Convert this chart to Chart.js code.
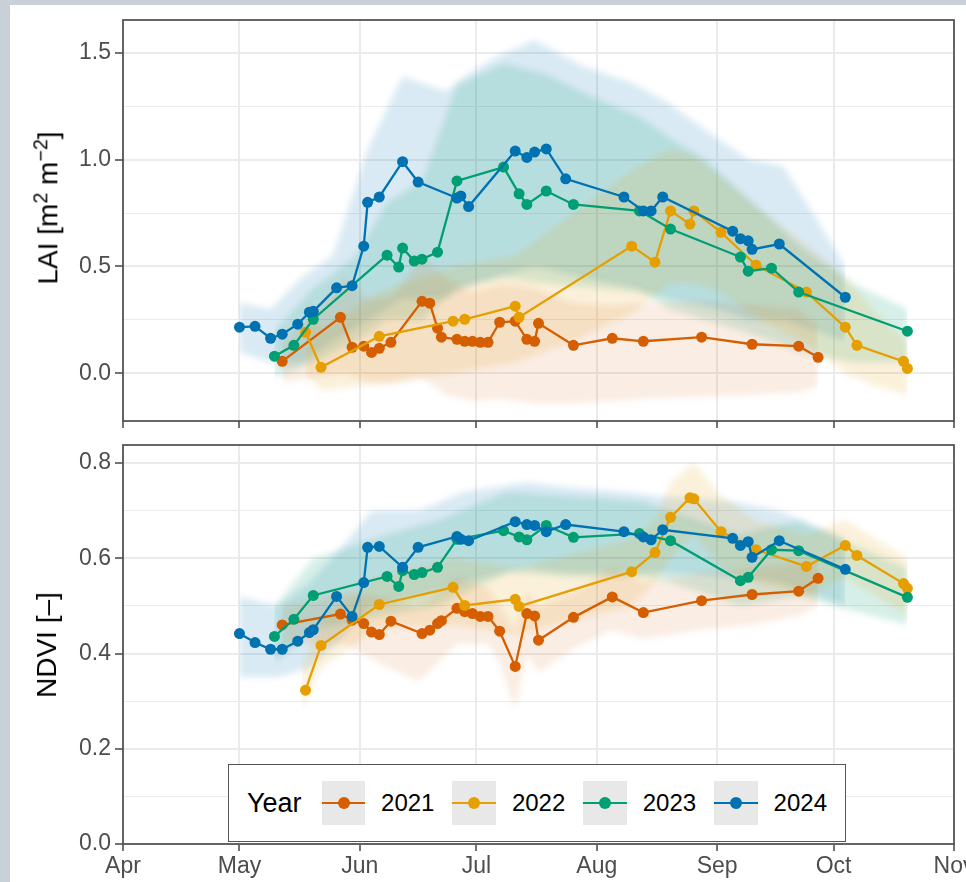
<!DOCTYPE html>
<html>
<head>
<meta charset="utf-8">
<script src="https://cdn.jsdelivr.net/npm/chart.js@4.4.1/dist/chart.umd.min.js"></script>
<style>
  html, body { margin: 0; padding: 0; }
  body {
    width: 966px; height: 882px; overflow: hidden; position: relative;
    background: #c9d0d8; font-family: "Liberation Sans", Arial, sans-serif;
  }
  #sheet { position: absolute; left: 10px; top: 5px; width: 956px; height: 877px; background: #fff; }
  canvas { position: absolute; left: 0; }
  #laiChart { top: 0; }
  #ndviChart { top: 410px; }
  .ytitle {
    position: absolute; transform: translate(-50%, -50%) rotate(-90deg);
    white-space: nowrap; font-size: 28px; color: #000;
  }
  .ytitle sup { font-size: 0.7em; }
  #legend {
    position: absolute; left: 228px; top: 764px; width: 618px; height: 78px;
    box-sizing: border-box; border: 1.5px solid #555; background: #fff;
    display: flex; align-items: center; padding-left: 18px; color: #000;
  }
  .ltitle { font-size: 27px; margin-right: 20px; }
  .lkey { position: relative; width: 44px; height: 44px; background: #e8e8e8; margin-right: 16px; }
  .lkey .ln { position: absolute; left: 0; right: 0; top: 21px; height: 2px; }
  .lkey .dt { position: absolute; left: 16px; top: 16px; width: 12px; height: 12px; border-radius: 50%; }
  .llab { font-size: 24px; margin-right: 18px; }
</style>
</head>
<body>
<div id="sheet"></div>
<canvas id="laiChart" width="990" height="440"></canvas>
<canvas id="ndviChart" width="990" height="472"></canvas>
<div class="ytitle" style="left:47px; top:208px;">LAI [m<sup>2</sup> m<sup>−2</sup>]</div>
<div class="ytitle" style="left:47px; top:645px;">NDVI [–]</div>
<div id="legend"><span class="ltitle">Year</span></div>

<script>
// x = days since 1 April
const monthNames = ["Apr", "May", "Jun", "Jul", "Aug", "Sep", "Oct", "Nov"];
const monthDays = [0, 30, 61, 91, 122, 153, 183, 214];

const years = ["2021", "2022", "2023", "2024"];
const yearColors = ["#D55E00", "#E69F00", "#009E73", "#0072B2"];
const ribbonColors = [
  "rgba(213, 94, 0, 0.11)",
  "rgba(230, 159, 0, 0.14)",
  "rgba(0, 158, 115, 0.16)",
  "rgba(0, 114, 178, 0.15)",
];

const laiGrid = [0, 0.25, 0.5, 0.75, 1.0, 1.25, 1.5];
const laiLabels = [0, 0.5, 1.0, 1.5];
const ndviGrid = [0, 0.1, 0.2, 0.3, 0.4, 0.5, 0.6, 0.7, 0.8];
const ndviLabels = [0, 0.2, 0.4, 0.6, 0.8];

// observations
const days2021 = [41, 56, 59, 62, 64, 66, 69, 77, 79, 81, 82, 86, 88, 90, 92, 94, 97, 101, 104, 106, 107, 116, 126, 134, 149, 162, 174, 179];
const lai2021 = [0.056, 0.262, 0.122, 0.127, 0.098, 0.117, 0.145, 0.337, 0.328, 0.211, 0.169, 0.159, 0.150, 0.150, 0.145, 0.145, 0.239, 0.244, 0.159, 0.150, 0.234, 0.131, 0.164, 0.150, 0.169, 0.136, 0.127, 0.075];
const ndvi2021 = [0.460, 0.483, 0.470, 0.463, 0.445, 0.440, 0.468, 0.442, 0.449, 0.463, 0.469, 0.495, 0.488, 0.484, 0.478, 0.478, 0.447, 0.373, 0.484, 0.479, 0.428, 0.476, 0.519, 0.486, 0.511, 0.524, 0.531, 0.558];

const days2022 = [47, 51, 66, 85, 88, 101, 102, 131, 137, 141, 146, 147, 154, 163, 176, 186, 189, 201, 202];
const lai2022 = [0.192, 0.028, 0.173, 0.244, 0.253, 0.314, 0.262, 0.595, 0.520, 0.760, 0.698, 0.760, 0.660, 0.506, 0.380, 0.216, 0.131, 0.056, 0.023];
const ndvi2022 = [0.323, 0.417, 0.503, 0.539, 0.501, 0.514, 0.499, 0.572, 0.612, 0.686, 0.727, 0.725, 0.656, 0.618, 0.583, 0.627, 0.606, 0.547, 0.537];

const days2023 = [39, 44, 49, 68, 71, 72, 75, 77, 81, 86, 98, 102, 104, 109, 116, 133, 141, 159, 161, 167, 174, 202];
const lai2023 = [0.080, 0.131, 0.253, 0.553, 0.497, 0.586, 0.525, 0.534, 0.567, 0.900, 0.965, 0.840, 0.790, 0.853, 0.790, 0.760, 0.675, 0.544, 0.478, 0.492, 0.380, 0.197];
const ndvi2023 = [0.436, 0.472, 0.522, 0.562, 0.541, 0.574, 0.566, 0.570, 0.581, 0.640, 0.658, 0.645, 0.639, 0.669, 0.644, 0.652, 0.637, 0.553, 0.560, 0.618, 0.616, 0.518];

const days2024 = [30, 34, 38, 41, 45, 48, 49, 55, 59, 62, 63, 66, 72, 76, 86, 87, 89, 101, 104, 106, 109, 114, 129, 134, 136, 139, 157, 159, 161, 162, 169, 186];
const lai2024 = [0.216, 0.220, 0.164, 0.183, 0.230, 0.286, 0.290, 0.400, 0.410, 0.595, 0.800, 0.825, 0.990, 0.895, 0.820, 0.830, 0.780, 1.040, 1.010, 1.035, 1.050, 0.910, 0.825, 0.760, 0.760, 0.825, 0.665, 0.630, 0.620, 0.580, 0.605, 0.356];
const ndvi2024 = [0.442, 0.423, 0.409, 0.409, 0.426, 0.444, 0.450, 0.520, 0.478, 0.549, 0.623, 0.625, 0.581, 0.623, 0.646, 0.640, 0.637, 0.677, 0.671, 0.669, 0.656, 0.671, 0.656, 0.645, 0.639, 0.660, 0.642, 0.627, 0.635, 0.602, 0.637, 0.577];

// spread bands (lower / upper)
const laiBandDays2021 = [41, 50, 57, 63, 69, 77, 83, 90, 97, 106, 116, 126, 134, 149, 162, 174, 179];
const laiBandLow2021 = [-0.04, -0.02, 0.0, -0.04, -0.05, -0.02, -0.1, -0.13, -0.12, -0.14, -0.14, -0.13, -0.12, -0.11, -0.1, -0.09, -0.06];
const laiBandHigh2021 = [0.15, 0.3, 0.45, 0.35, 0.35, 0.55, 0.45, 0.38, 0.42, 0.4, 0.33, 0.32, 0.33, 0.34, 0.32, 0.3, 0.22];

const laiBandDays2022 = [47, 51, 66, 85, 101, 116, 131, 141, 147, 154, 163, 176, 186, 194, 202];
const laiBandLow2022 = [0.0, -0.08, -0.05, 0.0, 0.05, 0.15, 0.28, 0.42, 0.42, 0.38, 0.26, 0.14, 0.0, -0.06, -0.1];
const laiBandHigh2022 = [0.35, 0.2, 0.38, 0.5, 0.55, 0.75, 0.95, 1.05, 1.02, 0.92, 0.78, 0.6, 0.45, 0.28, 0.15];

const laiBandDays2023 = [39, 49, 60, 68, 77, 86, 98, 109, 120, 133, 141, 150, 159, 167, 174, 188, 202];
const laiBandLow2023 = [-0.02, 0.05, 0.15, 0.25, 0.25, 0.4, 0.45, 0.42, 0.4, 0.38, 0.3, 0.25, 0.2, 0.15, 0.1, 0.05, 0.05];
const laiBandHigh2023 = [0.2, 0.4, 0.55, 0.8, 0.9, 1.35, 1.45, 1.4, 1.3, 1.2, 1.1, 1.0, 0.85, 0.72, 0.6, 0.42, 0.3];

const laiBandDays2024 = [30, 38, 46, 54, 63, 72, 83, 88, 96, 106, 118, 131, 140, 153, 161, 170, 178, 186];
const laiBandLow2024 = [0.1, 0.05, 0.05, 0.15, 0.25, 0.35, 0.35, 0.4, 0.45, 0.5, 0.45, 0.4, 0.35, 0.3, 0.25, 0.25, 0.2, 0.15];
const laiBandHigh2024 = [0.33, 0.3, 0.45, 0.55, 1.05, 1.39, 1.32, 1.39, 1.48, 1.56, 1.44, 1.36, 1.27, 1.1, 1.0, 0.97, 0.74, 0.5];

const ndviBandDays2021 = [41, 57, 66, 76, 86, 94, 97, 101, 104, 107, 116, 126, 134, 149, 162, 174, 179];
const ndviBandLow2021 = [0.42, 0.42, 0.38, 0.34, 0.42, 0.42, 0.38, 0.28, 0.4, 0.36, 0.41, 0.45, 0.43, 0.45, 0.46, 0.48, 0.5];
const ndviBandHigh2021 = [0.5, 0.53, 0.52, 0.5, 0.56, 0.54, 0.5, 0.45, 0.53, 0.5, 0.53, 0.58, 0.55, 0.57, 0.58, 0.59, 0.6];

const ndviBandDays2022 = [46, 51, 65, 85, 102, 131, 137, 141, 147, 154, 163, 176, 186, 202];
const ndviBandLow2022 = [0.28, 0.37, 0.45, 0.46, 0.44, 0.5, 0.55, 0.6, 0.65, 0.58, 0.55, 0.52, 0.56, 0.48];
const ndviBandHigh2022 = [0.37, 0.47, 0.56, 0.6, 0.58, 0.64, 0.68, 0.76, 0.8, 0.73, 0.68, 0.65, 0.68, 0.6];

const ndviBandDays2023 = [39, 49, 68, 81, 99, 116, 134, 141, 159, 174, 202];
const ndviBandLow2023 = [0.38, 0.45, 0.48, 0.5, 0.57, 0.56, 0.56, 0.55, 0.5, 0.52, 0.46];
const ndviBandHigh2023 = [0.5, 0.6, 0.65, 0.68, 0.74, 0.73, 0.72, 0.7, 0.65, 0.68, 0.58];

const ndviBandDays2024 = [30, 40, 48, 56, 64, 76, 88, 104, 114, 129, 139, 157, 169, 186];
const ndviBandLow2024 = [0.35, 0.35, 0.37, 0.43, 0.5, 0.52, 0.55, 0.58, 0.57, 0.57, 0.57, 0.56, 0.55, 0.5];
const ndviBandHigh2024 = [0.52, 0.5, 0.55, 0.62, 0.7, 0.7, 0.74, 0.76, 0.75, 0.74, 0.73, 0.72, 0.7, 0.64];

const obsDays = [days2021, days2022, days2023, days2024];
const laiObs = [lai2021, lai2022, lai2023, lai2024];
const ndviObs = [ndvi2021, ndvi2022, ndvi2023, ndvi2024];
const laiBands = [
  [laiBandDays2021, laiBandLow2021, laiBandHigh2021],
  [laiBandDays2022, laiBandLow2022, laiBandHigh2022],
  [laiBandDays2023, laiBandLow2023, laiBandHigh2023],
  [laiBandDays2024, laiBandLow2024, laiBandHigh2024],
];
const ndviBands = [
  [ndviBandDays2021, ndviBandLow2021, ndviBandHigh2021],
  [ndviBandDays2022, ndviBandLow2022, ndviBandHigh2022],
  [ndviBandDays2023, ndviBandLow2023, ndviBandHigh2023],
  [ndviBandDays2024, ndviBandLow2024, ndviBandHigh2024],
];

const pts = (xs, ys) => xs.map((x, i) => ({ x: x, y: ys[i] }));

// soft edges on the bands: blur is switched on just before the filler draws
const ribbonBlur = {
  id: "ribbonBlur",
  beforeDatasetsDraw(chart) { chart.ctx.filter = "blur(3px)"; },
  beforeDatasetDraw(chart) { chart.ctx.filter = "none"; },
  afterDatasetsDraw(chart) { chart.ctx.filter = "none"; },
};
const filler = Chart.registry.getPlugin("filler");
if (filler) {
  Chart.unregister(filler);
  Chart.register(ribbonBlur, filler);
}

const panelBorder = {
  id: "panelBorder",
  afterDraw(chart) {
    const { ctx, chartArea: a } = chart;
    ctx.save();
    ctx.strokeStyle = "#4d4d4d";
    ctx.lineWidth = 1.7;
    ctx.strokeRect(a.left, a.top, a.right - a.left, a.bottom - a.top);
    ctx.restore();
  },
};

function buildDatasets(obs, bands) {
  const sets = [];
  bands.forEach((b, i) => {
    sets.push({ data: pts(b[0], b[1]), borderWidth: 0, pointRadius: 0, fill: false, order: 10 });
    sets.push({ data: pts(b[0], b[2]), borderWidth: 0, pointRadius: 0, fill: "-1", backgroundColor: ribbonColors[i], order: 10 });
  });
  obs.forEach((vals, i) => {
    sets.push({
      label: years[i],
      data: pts(obsDays[i], vals),
      borderColor: yearColors[i],
      backgroundColor: yearColors[i],
      borderWidth: 2.3,
      pointRadius: 5.5,
      pointBorderWidth: 0,
      fill: false,
      order: 3 - i,
    });
  });
  return sets;
}

function makeChart(canvasId, obs, bands, yMin, yMax, grid, labels, opts) {
  const tickFont = { family: "'Liberation Sans', Arial, sans-serif", size: 23 };
  return new Chart(document.getElementById(canvasId).getContext("2d"), {
    type: "line",
    data: { datasets: buildDatasets(obs, bands) },
    options: {
      responsive: false,
      animation: false,
      devicePixelRatio: 1,
      layout: { padding: { top: opts.padTop, right: 36, left: 0, bottom: 0 } },
      plugins: {
        legend: { display: false },
        tooltip: { enabled: false },
        filler: { drawTime: "beforeDatasetsDraw" },
      },
      scales: {
        x: {
          type: "linear",
          min: 0,
          max: 214,
          afterBuildTicks: (s) => { s.ticks = monthDays.map((d) => ({ value: d })); },
          afterFit: (s) => { s.height = opts.xHeight; },
          border: { display: false },
          grid: { color: "#ebebeb", lineWidth: 2, tickLength: 7, tickColor: "#444444", tickWidth: 1.5 },
          ticks: {
            display: opts.showX,
            autoSkip: false,
            maxRotation: 0,
            padding: 2,
            color: "#4d4d4d",
            font: tickFont,
            callback: (v) => monthNames[monthDays.indexOf(v)],
          },
        },
        y: {
          type: "linear",
          min: yMin,
          max: yMax,
          afterBuildTicks: (s) => { s.ticks = grid.map((v) => ({ value: v })); },
          afterFit: (s) => { s.width = 123; },
          border: { display: false },
          grid: {
            color: "#ebebeb",
            lineWidth: (c) => (labels.includes(c.tick.value) ? 2 : 1),
            tickLength: 8,
            tickColor: (c) => (labels.includes(c.tick.value) ? "#444444" : "rgba(0,0,0,0)"),
            tickWidth: 1.5,
          },
          ticks: {
            autoSkip: false,
            padding: 4,
            color: "#4d4d4d",
            font: tickFont,
            callback: (v) => (labels.includes(v) ? v.toFixed(1) : ""),
          },
        },
      },
    },
    plugins: [panelBorder],
  });
}

makeChart("laiChart", laiObs, laiBands, -0.223, 1.653, laiGrid, laiLabels, { padTop: 20, xHeight: 19, showX: false });
makeChart("ndviChart", ndviObs, ndviBands, 0, 0.838, ndviGrid, ndviLabels, { padTop: 35, xHeight: 38, showX: true });

// legend
const legend = document.getElementById("legend");
years.forEach((y, i) => {
  const key = document.createElement("div");
  key.className = "lkey";
  key.innerHTML = '<div class="ln" style="background:' + yearColors[i] + '"></div>' +
    '<div class="dt" style="background:' + yearColors[i] + '"></div>';
  const lab = document.createElement("span");
  lab.className = "llab";
  lab.textContent = y;
  legend.appendChild(key);
  legend.appendChild(lab);
});
</script>
</body>
</html>
